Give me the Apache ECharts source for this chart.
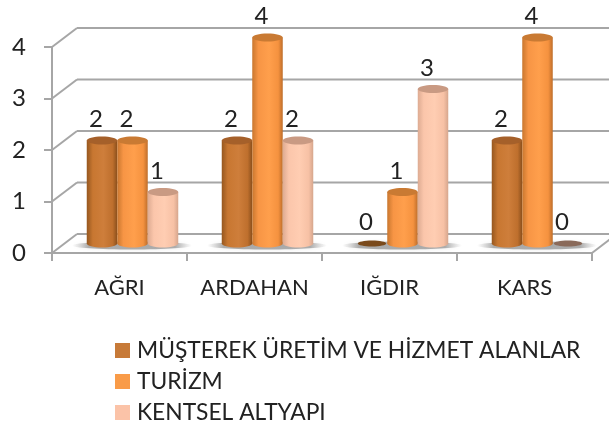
<!DOCTYPE html>
<html><head><meta charset="utf-8">
<style>html,body{margin:0;padding:0;background:#fff}#c{width:609px;height:430px}</style>
<script src="https://cdn.jsdelivr.net/npm/echarts@6/dist/echarts.min.js"></script>
</head><body><div id="c"></div>
<script>
const categories = ['AĞRI','ARDAHAN','IĞDIR','KARS'];
const seriesNames = ['MÜŞTEREK ÜRETİM VE HİZMET ALANLAR','TURİZM','KENTSEL ALTYAPI'];
const musterek = [2,2,0,2];
const turizm = [2,4,1,4];
const kentsel = [1,2,3,0];
const yTicks = [0,1,2,3,4];
const legendColors = ['#C77A38','#F99B48','#FBC3A8'];
const gradients = [
  ['#96571F','#C87731','#CE7E3B','#BE6F2D','#8A4F1C'],
  ['#C9772F','#F79545','#FF9F4C','#F5923F','#BE6E2B'],
  ['#DDAB92','#FBC6AB','#FFCDB2','#F7C1A5','#D6A68D']
];
const topColors = ['#A5602A','#C97A33','#C99A83'];
const zeroColors = ['#7A4A1C','#A0602A','#8A6A5A'];
const DX = 25, DY = 19, BAR = 30.5, RY = 4;
const font = 'Lato, "Open Sans", sans-serif';

function wallItem(params, api){
  const cs = params.coordSys;
  const v = api.value(0);
  const y = api.coord([0, v])[1];
  const x = cs.x;
  const style = {stroke:'#A6A6A6', lineWidth:2, fill:'none'};
  const kids = [
    {type:'line', shape:{x1:x,y1:y,x2:x+DX,y2:y-DY}, style},
    {type:'line', shape:{x1:x+DX,y1:y-DY,x2:cs.x+cs.width+DX,y2:y-DY}, style}
  ];
  if(v===0){
    kids.push({type:'line', shape:{x1:cs.x+cs.width,y1:y,x2:cs.x+cs.width+DX,y2:y-DY}, style});
  }
  return {type:'group', children:kids};
}
function shadowItem(params, api){
  const c = api.coord([api.value(0), 0]);
  const cx = c[0] + DX/2;
  const cy = c[1] - DY/2 + 2;
  return {type:'ellipse', shape:{cx, cy, rx:60, ry:4},
    style:{fill:{type:'linear',x:0,y:0,x2:1,y2:0,colorStops:[
      {offset:0,color:'rgba(160,160,160,0)'},{offset:0.14,color:'rgba(125,125,125,0.6)'},{offset:0.86,color:'rgba(125,125,125,0.6)'},{offset:1,color:'rgba(160,160,160,0)'}]},
      shadowBlur:4, shadowColor:'rgba(170,170,170,0.4)'}};
}
function cylinderItem(si){
  return function(params, api){
    const cat = api.value(0), val = api.value(1);
    const p = api.coord([cat, val]);
    const base = api.coord([cat, 0]);
    const cx = p[0] + DX/2 + (si-1)*BAR + 0.5;
    const top = p[1] - DY/2, bottom = base[1] - DY/2;
    const x = cx - BAR/2;
    const kids = [];
    if(val > 0){
      const stops = gradients[si].map((c,i)=>({offset:[0,0.2,0.55,0.85,1][i],color:c}));
      const fill = {type:'linear',x:0,y:0,x2:1,y2:0,colorStops:stops};
      kids.push({type:'ellipse',shape:{cx,cy:bottom,rx:BAR/2,ry:RY},style:{fill}});
      kids.push({type:'rect',shape:{x,y:top,width:BAR,height:bottom-top},style:{fill}});
      kids.push({type:'ellipse',shape:{cx,cy:top,rx:BAR/2,ry:RY},style:{fill:topColors[si]}});
    } else {
      kids.push({type:'ellipse',shape:{cx,cy:bottom,rx:BAR/2-1,ry:3},style:{fill:zeroColors[si]}});
    }
    kids.push({type:'text',x:cx-6,y:top-21,style:{text:String(val),font:'24px '+font,fill:'#222',align:'center',verticalAlign:'middle'}});
    return {type:'group',children:kids};
  };
}
const values = [musterek,turizm,kentsel];
const chart = echarts.init(document.getElementById('c'),null,{renderer:'canvas'});
chart.setOption({
  animation:false,
  backgroundColor:'#fff',
  grid:{left:52,right:17,top:47,bottom:177,containLabel:false},
  legend:{
    data:seriesNames, orient:'vertical', left:115, top:339, padding:0, itemWidth:15, itemHeight:15, itemGap:8,
    icon:'rect', selectedMode:false,
    textStyle:{fontFamily:font,fontSize:22.8,lineHeight:22,color:'#222',padding:[0,0,0,2]}
  },
  xAxis:{type:'category',data:categories,
    axisLine:{lineStyle:{color:'#A6A6A6',width:2}},
    axisTick:{show:true,length:8,alignWithLabel:false,lineStyle:{color:'#A6A6A6',width:2}},
    axisLabel:{fontFamily:font,fontSize:22,color:'#222',margin:24,interval:0},
    splitLine:{show:false}},
  yAxis:{type:'value',min:0,max:4,interval:1,
    axisLine:{show:true,lineStyle:{color:'#A6A6A6',width:2}},
    axisTick:{show:true,length:8,lineStyle:{color:'#A6A6A6',width:2}},
    axisLabel:{fontFamily:font,fontSize:24,color:'#222',margin:26,padding:[5,0,0,0]},
    splitLine:{show:false}},
  series:[
    {type:'custom',name:'walls',silent:true,clip:false,z:1,data:yTicks.map(v=>[v]),encode:{y:0},renderItem:wallItem},
    {type:'custom',name:'shadow',silent:true,clip:false,z:2,data:categories.map((c,i)=>[i]),encode:{x:0},renderItem:shadowItem},
    ...seriesNames.map((n,si)=>({
      type:'custom',name:n,clip:false,z:3+si,
      itemStyle:{color:legendColors[si]},
      data:values[si].map((v,i)=>[i,v]),encode:{x:0,y:1},renderItem:cylinderItem(si)
    }))
  ]
});
</script></body></html>
